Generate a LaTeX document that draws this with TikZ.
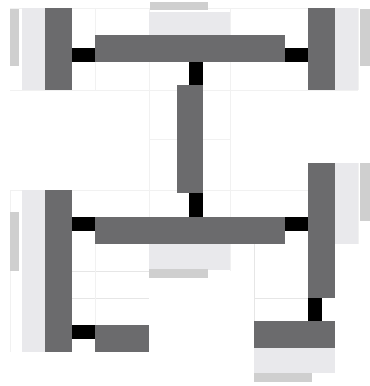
\documentclass[tikz,border=0pt]{standalone}
\usepackage{tikz}
\definecolor{darkbar}{HTML}{6B6B6D}
\definecolor{paleband}{HTML}{E9E9EC}
\definecolor{stripband}{HTML}{CFCFCF}
\definecolor{gridline}{HTML}{E6E6E6}
\definecolor{gridfaint}{HTML}{F1F1F1}
\tikzset{
  bar/.style={fill=darkbar,draw=none,inner sep=0pt,outer sep=0pt},
  pale/.style={fill=paleband,draw=none,inner sep=0pt,outer sep=0pt},
  strip/.style={fill=stripband,draw=none,inner sep=0pt,outer sep=0pt},
  conn/.style={draw=black,line width=14bp,line cap=butt},
  grid line/.style={draw=gridline,line width=0.6bp},
  faint line/.style={draw=gridfaint,line width=0.7bp}
}
% name, x1, y1, x2, y2, style (pixels, y downward)
\newcommand{\bx}[6]{%
  \pgfmathsetmacro{\bxw}{#4-#2}\pgfmathsetmacro{\bxh}{#5-#3}%
  \pgfmathsetmacro{\bxx}{(#2+#4)/2}\pgfmathsetmacro{\bxy}{(#3+#5)/2}%
  \node[#6,minimum width=\bxw bp,minimum height=\bxh bp] (#1) at (\bxx,\bxy) {};}
\begin{document}
\begin{tikzpicture}[x=1bp,y=-1bp]
\useasboundingbox (0,0) rectangle (370,386);
% faint grid
\foreach \a/\b/\c in {10/358/8,10/358/90,10/358/190,149/177/139,203/230/139}
  \draw[faint line] (\a,\c) -- (\b,\c);
\foreach \a/\b/\c in {95/8/90,149/8/271,230/8/271,10/190/352,358/8/90,358/163/244}
  \draw[faint line] (\a,\b) -- (\a,\c);
\foreach \a/\b/\c in {72/149/271,72/149/298,254/308/298}
  \draw[grid line] (\a,\c) -- (\b,\c);
\draw[grid line] (254,244) -- (254,321);
\draw[faint line] (95,231) -- (95,325);
% pale bands and strips
\bx{pa}{22}{8}{45}{90}{pale}
\bx{pb}{335}{8}{358}{90}{pale}
\bx{pc}{149}{12}{230}{35}{pale}
\bx{pd}{22}{190}{45}{352}{pale}
\bx{pe}{335}{163}{358}{244}{pale}
\bx{pf}{149}{244}{230}{270}{pale}
\bx{pg}{254}{348}{335}{373}{pale}
\bx{sa}{10}{9}{19}{66}{strip}
\bx{sb}{360}{9}{370}{66}{strip}
\bx{sc}{150}{2}{208}{10}{strip}
\bx{sd}{10}{212}{19}{271}{strip}
\bx{se}{360}{163}{370}{221}{strip}
\bx{sf}{149}{269}{208}{278}{strip}
\bx{sg}{254}{373}{312}{382}{strip}
% bars
\bx{lefttop}{45}{8}{72}{90}{bar}
\bx{righttop}{308}{8}{335}{90}{bar}
\bx{topbar}{95}{35}{285}{62}{bar}
\bx{centre}{177}{85}{203}{193}{bar}
\bx{midbar}{95}{217}{285}{244}{bar}
\bx{leftlong}{45}{190}{72}{352}{bar}
\bx{rightlong}{308}{163}{335}{298}{bar}
\bx{lowleft}{95}{325}{149}{352}{bar}
\bx{lowright}{254}{321}{335}{348}{bar}
% connectors
\coordinate (c1) at ([yshift=7bp]topbar.south west);
\draw[conn] (c1) -- (c1 -| lefttop.east);
\coordinate (c2) at ([yshift=7bp]topbar.south east);
\draw[conn] (c2) -- (c2 -| righttop.west);
\coordinate (c3) at ([xshift=-7bp]centre.north east);
\draw[conn] (c3) -- (c3 |- topbar.south);
\coordinate (c4) at ([xshift=-7bp]centre.south east);
\draw[conn] (c4) -- (c4 |- midbar.north);
\coordinate (c5) at ([yshift=-7bp]midbar.north west);
\draw[conn] (c5) -- (c5 -| leftlong.east);
\coordinate (c6) at ([yshift=-7bp]midbar.north east);
\draw[conn] (c6) -- (c6 -| rightlong.west);
\coordinate (c7) at ([yshift=-7bp]lowleft.north west);
\draw[conn] (c7) -- (c7 -| leftlong.east);
\coordinate (c8) at ([xshift=7bp]rightlong.south west);
\draw[conn] (c8) -- (c8 |- lowright.north);
\end{tikzpicture}
\end{document}
